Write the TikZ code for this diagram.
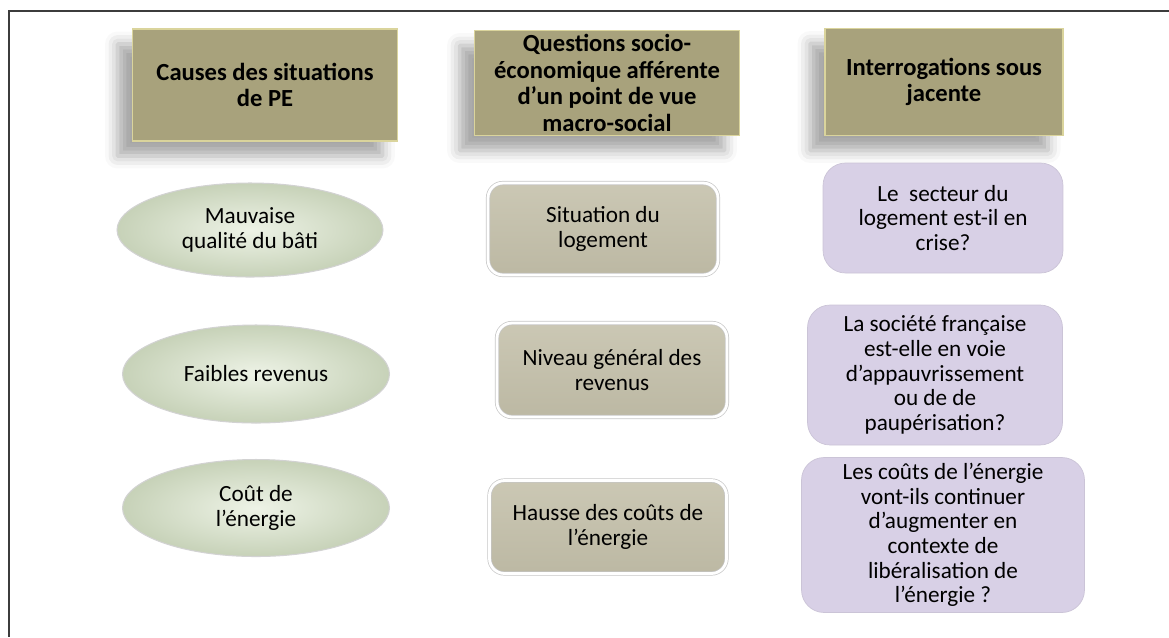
\documentclass[tikz,border=0pt]{standalone}
\usepackage{fontspec}
\setmainfont{Carlito}
\usetikzlibrary{shapes.geometric,shadows.blur}

\definecolor{HeadFill}{RGB}{168,162,124}
\definecolor{HeadEdge}{RGB}{218,212,156}
\definecolor{QuestFill}{RGB}{196,192,170}
\definecolor{CauseFill}{RGB}{216,228,200}
\definecolor{InterFill}{RGB}{216,208,230}
\definecolor{FrameLine}{RGB}{60,60,60}

\tikzset{
    every node/.style={font=\fontsize{13.2}{14}\selectfont, align=center, inner sep=1pt},
    headbox/.style={rectangle, fill=HeadFill, draw=HeadEdge, line width=1pt,
        font=\fontsize{14}{15.2}\selectfont\bfseries,
        blur shadow={shadow xshift=-0.3cm, shadow yshift=-0.3cm, shadow opacity=35, shadow blur radius=0.25cm}},
    causeell/.style={ellipse, inner color=CauseFill!45!white, outer color=CauseFill!92!black,
        draw=gray!35, line width=0.6pt},
    questbox/.style={rectangle, rounded corners=0.3cm, top color=QuestFill!88!white,
        bottom color=QuestFill!96!black, draw=gray!45, double=white, double distance=1.6pt},
    interbox/.style={rectangle, rounded corners=0.45cm, fill=InterFill, draw=InterFill!85!gray,
        line width=0.4pt},
}

\begin{document}
\begin{tikzpicture}[x=0.02cm, y=-0.02cm]
    \useasboundingbox (0,0) rectangle (1169,637);
    \draw[FrameLine, line width=1.2pt] (1169,11) -- (9,11) -- (9,637);

    \node[headbox, minimum width=5.3cm, minimum height=2.24cm] (HeadCauses) at (265,85)
        {Causes des situations\\de PE};
    \node[headbox, minimum width=5.3cm, minimum height=2.1cm] (HeadQuestions) at (607,83)
        {Questions socio-\\économique afférente\\d’un point de vue\\macro-social};
    \node[headbox, minimum width=4.76cm, minimum height=2.14cm] (HeadInterro) at (944,82)
        {Interrogations sous\\jacente};

    \node[causeell, minimum width=5.32cm, minimum height=1.88cm] (CauseBati) at (250,230)
        {Mauvaise\\qualité du bâti};
    \node[causeell, minimum width=5.34cm, minimum height=1.96cm] (CauseRevenus) at (256,374)
        {Faibles revenus};
    \node[causeell, minimum width=5.34cm, minimum height=1.94cm] (CauseEnergie) at (256,508)
        {Coût de\\l’énergie};

    \node[questbox, minimum width=4.6cm, minimum height=1.84cm] (QuestLogement) at (603,229)
        {Situation du\\logement};
    \node[questbox, minimum width=4.6cm, minimum height=1.88cm] (QuestRevenus) at (612,370)
        {Niveau général des\\revenus};
    \node[questbox, minimum width=4.74cm, minimum height=1.86cm] (QuestEnergie) at (608,527)
        {Hausse des coûts de\\l’énergie};

    \node[interbox, minimum width=4.8cm, minimum height=2.2cm] (InterLogement) at (943,218)
        {Le~ secteur du\\logement est-il en\\crise?};
    \node[interbox, minimum width=5.1cm, minimum height=2.8cm] (InterSociete) at (935,375)
        {La société française\\est-elle en voie\\d’appauvrissement\\ou de de\\paupérisation?};
    \node[interbox, minimum width=5.66cm, minimum height=3.1cm] (InterEnergie) at (943,535)
        {Les coûts de l’énergie\\vont-ils continuer\\d’augmenter en\\contexte de\\libéralisation de\\l’énergie ?};
\end{tikzpicture}
\end{document}
